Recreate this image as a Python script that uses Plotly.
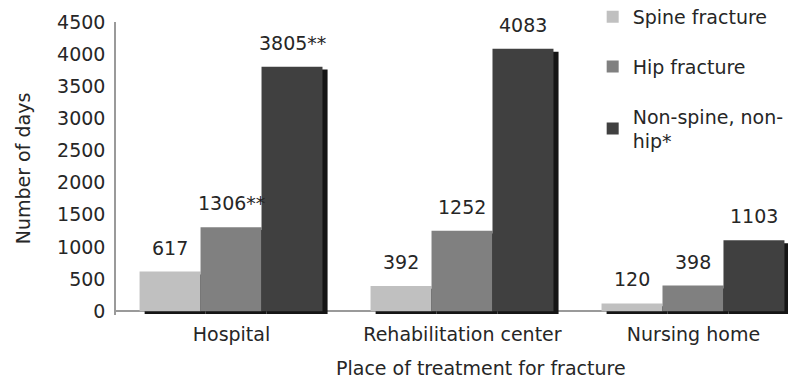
import plotly.graph_objects as go

categories = ["Hospital", "Rehabilitation center", "Nursing home"]
spine = [617, 392, 120]
hip = [1306, 1252, 398]
nonspine = [3805, 4083, 1103]
spine_labels = ["617", "392", "120"]
hip_labels = ["1306**", "1252", "398"]
nonspine_labels = ["3805**", "4083", "1103"]
series_names = ["Spine fracture", "Hip fracture", "Non-spine, non-<br>hip*"]
colors = ["#c0c0c0", "#808080", "#404040"]
yticks = [0, 500, 1000, 1500, 2000, 2500, 3000, 3500, 4000, 4500]

FONT = "DejaVu Sans"
TXT = "#262626"
W = 0.264
offsets = [-0.398, -0.134, 0.130]
SHIFT = 0.022
SHADOW_DROP = 45

series = [spine, hip, nonspine]
labels = [spine_labels, hip_labels, nonspine_labels]
xidx = list(range(len(categories)))

fig = go.Figure()
# shadows
for vals, off in zip(series, offsets):
    fig.add_trace(go.Bar(
        x=xidx, y=vals, base=[-SHADOW_DROP] * len(vals),
        width=W, offset=off + SHIFT,
        marker=dict(color="#151515", line=dict(width=0)),
        showlegend=False, hoverinfo="skip"))
# bars
for vals, off, name, col, i in zip(series, offsets, series_names, colors, range(3)):
    fig.add_trace(go.Bar(
        x=xidx, y=vals, width=W, offset=off, name=name,
        legendgroup=f"g{i}",
        marker=dict(color=col, line=dict(width=0))))

annotations = []
for vals, labs, off in zip(series, labels, offsets):
    for i, (v, t) in enumerate(zip(vals, labs)):
        annotations.append(dict(
            x=i + off + W / 2, y=v, xref="x", yref="y", text=t,
            showarrow=False, yanchor="middle", yshift=24,
            font=dict(family=FONT, size=19, color=TXT)))
annotations.append(dict(
    x=0.537, y=-0.18, xref="paper", yref="paper",
    text="Place of treatment for fracture", showarrow=False,
    yanchor="middle", xanchor="center",
    font=dict(family=FONT, size=19, color=TXT)))

# page body adds an 8px margin; the figure is sized to fill the rest
fig.update_layout(
    width=788, height=374,
    margin=dict(l=108, r=0, t=14, b=67, autoexpand=False),
    paper_bgcolor="white", plot_bgcolor="white",
    barmode="overlay",
    font=dict(family=FONT, size=19, color=TXT),
    legend=dict(x=0.701, y=1.082, xanchor="left", yanchor="top",
                tracegroupgap=22, font=dict(family=FONT, size=19, color=TXT),
                bgcolor="rgba(0,0,0,0)"),
    annotations=annotations,
)
fig.update_xaxes(
    tickmode="array", tickvals=xidx, ticktext=categories,
    range=[-0.5, 2.444], showline=False, showgrid=False,
    ticks="", ticklabelstandoff=6,
    tickfont=dict(family=FONT, size=19, color=TXT))
fig.update_yaxes(
    range=[-60, 4500], tickvals=yticks, showgrid=False,
    showline=True, linecolor="#9a9a9a", linewidth=1.5,
    zeroline=True, zerolinecolor="#9a9a9a", zerolinewidth=1.5,
    ticks="", ticklabelstandoff=5,
    tickfont=dict(family=FONT, size=19, color=TXT),
    title=dict(text="Number of days", standoff=21,
               font=dict(family=FONT, size=19, color=TXT)))

fig.write_html("out.html")
